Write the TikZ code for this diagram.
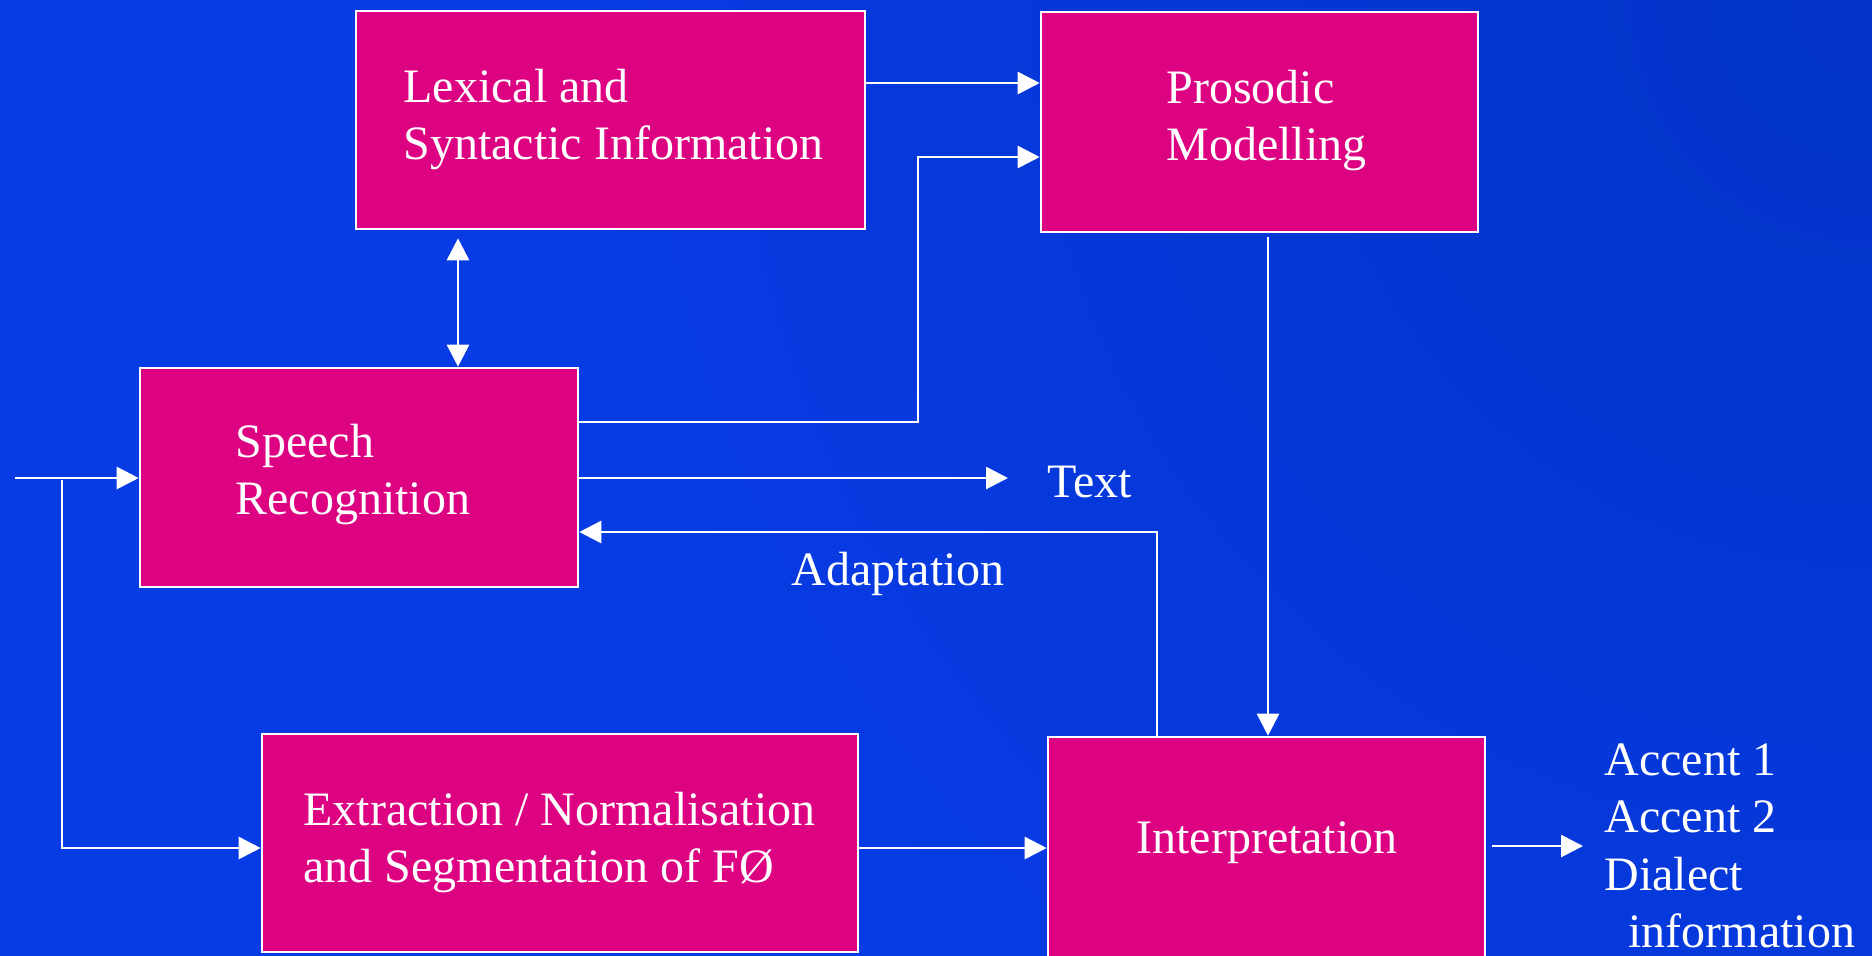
\documentclass[tikz,border=0pt]{standalone}
\usepackage{fontspec}
\setmainfont{Liberation Serif}
\usetikzlibrary{arrows.meta}
\definecolor{bgB}{HTML}{0333C8}
\definecolor{bgC}{HTML}{073BE3}
\definecolor{boxpink}{HTML}{DC0282}
\newcommand\mystack[1]{\vtop{\baselineskip=28.75pt\lineskiplimit=0pt #1}}
\tikzset{
  box/.style={draw=white, line width=1.3pt, fill=boxpink, inner sep=0pt},
  lbl/.style={text=white, inner sep=0pt, anchor=base west, font=\fontsize{24}{28.75}\selectfont},
  arr/.style={draw=white, line width=1.4pt, -{Triangle[length=11pt,width=11pt]}},
  darr/.style={draw=white, line width=1.4pt, {Triangle[length=11pt,width=11pt]}-{Triangle[length=11pt,width=11pt]}}
}
\begin{document}
\begin{tikzpicture}[x=0.5pt,y=-0.5pt]
\useasboundingbox (0,0) rectangle (1872,955);
\clip (-4,-4) rectangle (1876,959);
\fill[bgC] (-4,-4) rectangle (1876,959);
\shade[inner color=bgB, outer color=bgC] (1872,0) circle (1300);

% boxes
\node[box, minimum width=254.5pt, minimum height=109pt] (lex) at (610.5,120) {};
\node[box, minimum width=218.5pt, minimum height=110pt] (pros) at (1259.5,122) {};
\node[box, minimum width=219pt, minimum height=109.5pt] (sr) at (359,477.5) {};
\node[box, minimum width=298pt, minimum height=109pt] (ex) at (560,843) {};
\node[box, minimum width=218.5pt, minimum height=112pt] (ip) at (1266.5,849) {};

% texts
\node[lbl] (lexT) at (403,102) {\mystack{\hbox{Lexical and}\hbox{Syntactic Information}}};
\node[lbl] (prosT) at (1166,103) {\mystack{\hbox{Prosodic}\hbox{Modelling}}};
\node[lbl] (srT) at (235,457) {\mystack{\hbox{Speech}\hbox{Recognition}}};
\node[lbl] (exT) at (303,825) {\mystack{\hbox{Extraction / Normalisation}\hbox{and Segmentation of FØ}}};
\node[lbl] (ipT) at (1136,853) {Interpretation};
\node[lbl] (txt) at (1047,497) {Text};
\node[lbl] (adT) at (791,585) {Adaptation};
\node[lbl] (outT) at (1604,775) {\mystack{\hbox{Accent 1}\hbox{Accent 2}\hbox{Dialect}\hbox{\hspace{12pt}information}}};

% coordinates
\coordinate (in) at (15,478);
\coordinate (split) at (62,480);
\coordinate (textend) at (1008,478);
\coordinate (outend) at (1583,846);

% connectors
\draw[arr] (lex.east |- 0,83) -- (pros.west |- 0,83);
\draw[arr] (sr.east |- 0,422) -| (918,157) -- (pros.west |- 0,157);
\draw[darr, shorten <=4pt] (lex.south -| 458,0) -- (sr.north -| 458,0);
\draw[arr] (in) -- (sr.west |- in);
\draw[arr] (split) -- (split |- 0,848) -- (ex.west |- 0,848);
\draw[arr] (sr.east |- textend) -- (textend);
\draw[arr] (ip.north -| 1157,0) |- (sr.east |- 0,532);
\draw[arr, shorten <=2pt] (pros.south -| 1268,0) -- (ip.north -| 1268,0);
\draw[arr] (ex.east |- 0,848) -- (ip.west |- 0,848);
\draw[arr, shorten <=3pt] (ip.east |- outend) -- (outend);
\end{tikzpicture}
\end{document}
